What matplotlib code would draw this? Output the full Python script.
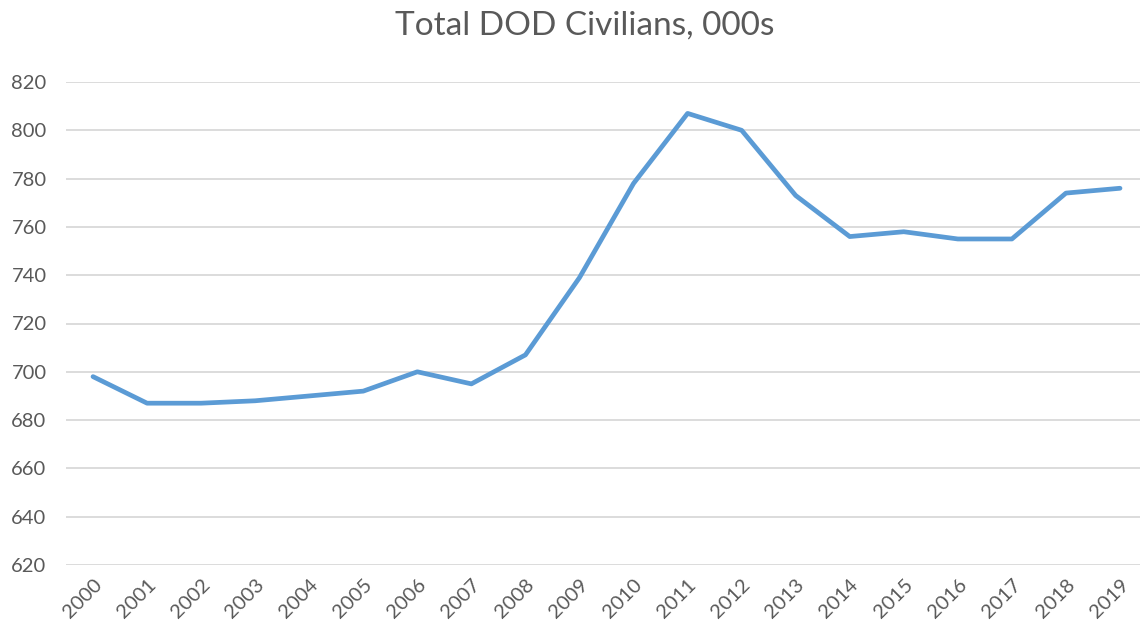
import matplotlib
matplotlib.use('Agg')
import matplotlib.pyplot as plt
import numpy as np

## data
years = [str(y) for y in range(2000, 2020)]
civilians = [698, 687, 687, 688, 690, 692, 700, 695, 707, 739,
             778, 807, 800, 773, 756, 758, 755, 755, 774, 776]
yTicks = [620, 640, 660, 680, 700, 720, 740, 760, 780, 800, 820]

plt.rcParams['font.family'] = ['Lato', 'DejaVu Sans']
textColor = '#595959'

fig = plt.figure(figsize=(11.4, 6.3), dpi=100)
ax = fig.add_axes([66/1140, 1 - 565/630, 1 - 66/1140, (565 - 82)/630])

xpos = np.arange(len(years))
ax.plot(xpos, civilians, color='#5B9BD5', linewidth=3.4, solid_capstyle='round',
        solid_joinstyle='round', zorder=3)

ax.set_xlim(-0.5, 19.37)
ax.set_ylim(620, 820)
ax.set_yticks(yTicks)
ax.set_xticks(xpos)
ax.set_xticklabels(years, rotation=45, ha='right', va='top', rotation_mode='anchor')
ax.tick_params(axis='both', length=0, labelsize=14.5, labelcolor=textColor)
ax.tick_params(axis='x', pad=8)
ax.tick_params(axis='y', pad=14)

ax.grid(axis='y', color='#D9D9D9', linewidth=1.3)
ax.set_axisbelow(True)
for side in ['top', 'right', 'left', 'bottom']:
    ax.spines[side].set_visible(False)

## title sits centred over the plot area, a bit right of the figure centre
fig.text(585/1140, 1 - 26/630, 'Total DOD Civilians, 000s', ha='center', va='center',
         fontsize=24, color=textColor)

fig.savefig('out.png', dpi=100)
